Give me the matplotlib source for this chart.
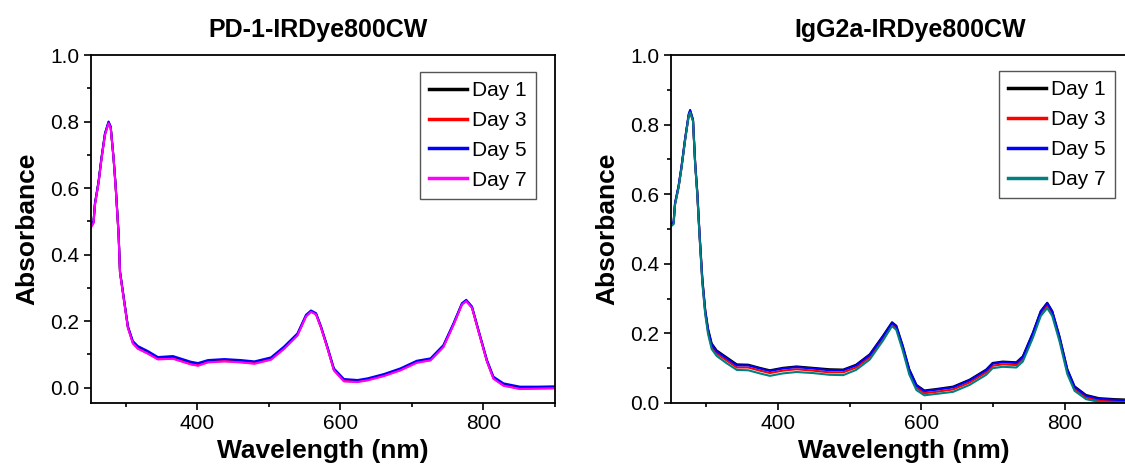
import matplotlib
matplotlib.use("Agg")
import matplotlib.pyplot as plt
from matplotlib.ticker import MultipleLocator

plt.rcParams["font.family"] = ["Liberation Sans", "DejaVu Sans"]

days = ["Day 1", "Day 3", "Day 5", "Day 7"]

# PD-1-IRDye800CW
left_wl = [251, 255, 257, 262, 266, 271, 276, 279, 283, 286, 288, 290, 292, 296, 299,
           303, 310, 317, 331, 345, 366, 391, 401, 415, 438, 461, 480, 503, 521, 540,
           552, 559, 566, 573, 582, 591, 605, 624, 638, 661, 684, 707, 726, 744, 758,
           770, 776, 784, 793, 805, 814, 828, 851, 875, 900]
left_day1 = [0.488, 0.498, 0.553, 0.618, 0.688, 0.763, 0.798, 0.783, 0.69, 0.603, 0.533, 0.463, 0.348, 0.288, 0.243,
             0.183, 0.137, 0.121, 0.106, 0.089, 0.091, 0.074, 0.07, 0.079, 0.082, 0.079, 0.075, 0.087, 0.119, 0.16,
             0.216, 0.23, 0.222, 0.182, 0.12, 0.055, 0.022, 0.02, 0.025, 0.038, 0.055, 0.078, 0.085, 0.125, 0.19,
             0.252, 0.262, 0.242, 0.172, 0.08, 0.03, 0.009, 0.0, 0.0, 0.001]
left_day3 = [0.482, 0.496, 0.551, 0.616, 0.686, 0.761, 0.796, 0.781, 0.69, 0.601, 0.531, 0.461, 0.346, 0.286, 0.241,
             0.181, 0.134, 0.118, 0.103, 0.086, 0.088, 0.071, 0.067, 0.077, 0.08, 0.077, 0.073, 0.085, 0.117, 0.158,
             0.215, 0.229, 0.221, 0.181, 0.119, 0.053, 0.02, 0.018, 0.023, 0.036, 0.053, 0.076, 0.083, 0.123, 0.189,
             0.251, 0.261, 0.241, 0.171, 0.079, 0.028, 0.007, -0.003, -0.002, -0.001]
left_day5 = [0.49, 0.50, 0.555, 0.62, 0.69, 0.765, 0.80, 0.785, 0.69, 0.605, 0.535, 0.465, 0.35, 0.29, 0.245,
             0.185, 0.14, 0.125, 0.11, 0.092, 0.095, 0.078, 0.074, 0.083, 0.086, 0.083, 0.079, 0.091, 0.123, 0.163,
             0.219, 0.232, 0.224, 0.184, 0.123, 0.058, 0.026, 0.023, 0.028, 0.041, 0.058, 0.081, 0.088, 0.128, 0.193,
             0.254, 0.264, 0.244, 0.174, 0.083, 0.033, 0.013, 0.003, 0.003, 0.004]
left_day7 = [0.48, 0.495, 0.55, 0.615, 0.685, 0.76, 0.795, 0.78, 0.69, 0.60, 0.53, 0.46, 0.345, 0.285, 0.24,
             0.18, 0.133, 0.117, 0.102, 0.085, 0.087, 0.07, 0.066, 0.076, 0.079, 0.076, 0.072, 0.084, 0.116, 0.157,
             0.214, 0.228, 0.22, 0.18, 0.118, 0.052, 0.019, 0.017, 0.022, 0.035, 0.052, 0.075, 0.082, 0.122, 0.188,
             0.25, 0.26, 0.24, 0.17, 0.078, 0.027, 0.006, -0.004, -0.003, -0.002]

# IgG2a-IRDye800CW
right_wl = [251, 255, 257, 262, 266, 271, 276, 278, 282, 285, 288, 291, 295, 299, 303,
            308, 315, 329, 343, 359, 375, 389, 407, 426, 449, 472, 491, 509, 528, 546,
            559, 565, 574, 583, 593, 604, 620, 644, 667, 690, 699, 713, 732, 741, 755,
            766, 775, 782, 792, 803, 813, 829, 847, 870, 900]
right_day1 = [0.512, 0.518, 0.573, 0.623, 0.678, 0.758, 0.828, 0.842, 0.813, 0.69, 0.605, 0.49, 0.357, 0.268, 0.213,
              0.171, 0.151, 0.131, 0.111, 0.11, 0.101, 0.094, 0.101, 0.105, 0.101, 0.097, 0.096, 0.11, 0.14, 0.192,
              0.232, 0.222, 0.164, 0.097, 0.052, 0.036, 0.04, 0.047, 0.067, 0.096, 0.115, 0.119, 0.117, 0.134, 0.202,
              0.264, 0.288, 0.264, 0.192, 0.097, 0.048, 0.023, 0.014, 0.011, 0.009]
right_day3 = [0.51, 0.516, 0.571, 0.621, 0.676, 0.756, 0.826, 0.836, 0.811, 0.688, 0.6, 0.485, 0.35, 0.26, 0.204,
              0.162, 0.142, 0.122, 0.102, 0.102, 0.093, 0.086, 0.093, 0.097, 0.093, 0.088, 0.088, 0.102, 0.132, 0.184,
              0.225, 0.215, 0.157, 0.089, 0.044, 0.028, 0.032, 0.039, 0.059, 0.088, 0.107, 0.111, 0.109, 0.126, 0.194,
              0.257, 0.28, 0.257, 0.185, 0.09, 0.041, 0.016, 0.007, 0.005, 0.004]
right_day5 = [0.515, 0.52, 0.575, 0.625, 0.68, 0.76, 0.83, 0.84, 0.815, 0.69, 0.605, 0.49, 0.355, 0.265, 0.21,
              0.168, 0.148, 0.128, 0.108, 0.108, 0.099, 0.092, 0.099, 0.103, 0.099, 0.094, 0.094, 0.108, 0.138, 0.19,
              0.23, 0.22, 0.162, 0.095, 0.05, 0.034, 0.038, 0.045, 0.065, 0.094, 0.113, 0.117, 0.115, 0.132, 0.2,
              0.263, 0.287, 0.263, 0.19, 0.095, 0.046, 0.021, 0.012, 0.009, 0.007]
right_day7 = [0.507, 0.514, 0.57, 0.62, 0.675, 0.755, 0.825, 0.835, 0.81, 0.686, 0.598, 0.482, 0.345, 0.255, 0.198,
              0.155, 0.135, 0.114, 0.095, 0.094, 0.085, 0.078, 0.085, 0.089, 0.086, 0.081, 0.08, 0.095, 0.125, 0.178,
              0.221, 0.21, 0.15, 0.082, 0.037, 0.022, 0.026, 0.032, 0.052, 0.081, 0.1, 0.104, 0.102, 0.119, 0.187,
              0.25, 0.273, 0.25, 0.178, 0.083, 0.035, 0.011, 0.003, 0.001, 0.0]

left_colors = ["black", "red", "blue", "magenta"]
right_colors = ["black", "red", "blue", "#008080"]


def style_axes(ax, ylim):
    ax.set_xlim(251, 900)
    ax.set_ylim(*ylim)
    ax.xaxis.set_major_locator(MultipleLocator(200))
    ax.xaxis.set_minor_locator(MultipleLocator(100))
    ax.yaxis.set_major_locator(MultipleLocator(0.2))
    ax.yaxis.set_minor_locator(MultipleLocator(0.1))
    ax.yaxis.set_major_formatter(lambda v, p: f"{v:.1f}")
    ax.tick_params(which="major", direction="out", length=5, width=1.2, labelsize=15, pad=3)
    ax.tick_params(which="minor", direction="out", length=3, width=1.2)
    for s in ax.spines.values():
        s.set_linewidth(1.3)
    ax.set_xlabel("Wavelength (nm)", fontsize=19, fontweight="bold", labelpad=4)
    ax.set_ylabel("Absorbance", fontsize=19, fontweight="bold", labelpad=8)


fig = plt.figure(figsize=(11.25, 4.76), dpi=100)
ax1 = fig.add_axes([0.0806, 0.1534, 0.4127, 0.731])
ax2 = fig.add_axes([0.5962, 0.1534, 0.4145, 0.731])

for ys, lbl, c in zip([left_day1, left_day3, left_day5, left_day7], days, left_colors):
    ax1.plot(left_wl, ys, color=c, lw=1.5, label=lbl)
for ys, lbl, c in zip([right_day1, right_day3, right_day5, right_day7], days, right_colors):
    ax2.plot(right_wl, ys, color=c, lw=1.5, label=lbl)

style_axes(ax1, (-0.046, 1.0))
style_axes(ax2, (0.0, 1.0))

for ax, anchor in [(ax1, (0.959, 0.952)), (ax2, (0.953, 0.954))]:
    leg = ax.legend(loc="upper right", bbox_to_anchor=anchor, borderaxespad=0, fontsize=15,
                    frameon=True, fancybox=False, edgecolor="#555555", framealpha=1,
                    handlelength=1.8, handletextpad=0.25, labelspacing=0.52, borderpad=0.45)
    leg.get_frame().set_linewidth(1.0)
    for h in leg.legend_handles:
        h.set_linewidth(2.5)

fig.text(0.2827, 0.937, "PD-1-IRDye800CW", ha="center", va="center", fontsize=18, fontweight="bold")
fig.text(0.809, 0.937, "IgG2a-IRDye800CW", ha="center", va="center", fontsize=18, fontweight="bold")

fig.savefig("out.png", dpi=100)
